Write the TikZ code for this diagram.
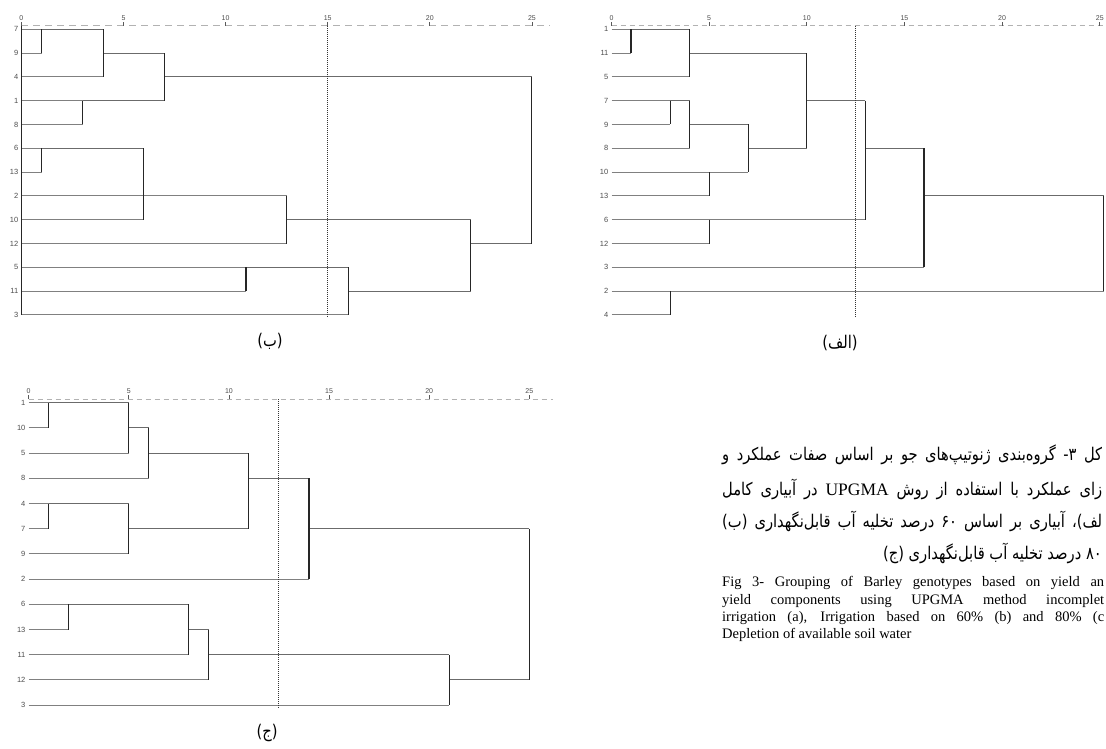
\documentclass[tikz,border=0pt]{standalone}
\usepackage{fontspec}
\setmainfont{Liberation Serif}
\setsansfont{Liberation Sans}
\newfontfamily\persianfont[Script=Arabic, FakeStretch=0.84]{DejaVu Sans}
\TeXXeTstate=1
\usetikzlibrary{positioning}

\begin{document}
\begin{tikzpicture}[
      x=1pt,
      y=-1pt,
      leafln/.style={
        draw=black!50,
        line width=1.1pt
      },
      linkln/.style={
        draw=black!58,
        line width=1.1pt
      },
      stemln/.style={
        draw=black!85,
        line width=1.1pt
      },
      axisln/.style={
        draw=black!30,
        line width=1pt,
        dash pattern=on 5pt off 4pt
      },
      tickln/.style={
        draw=black!65,
        line width=0.8pt
      },
      ticklab/.style={
        above,
        inner sep=1pt,
        font=\fontsize{7}{8}\sffamily,
        text=black!70
      },
      rowlab/.style={
        anchor=east,
        inner sep=0pt,
        xshift=-3pt,
        font=\fontsize{7.5}{8}\sffamily,
        text=black!70
      },
      cutln/.style={
        draw=black!80,
        line width=1pt,
        densely dotted
      },
      panelcap/.style={
        inner sep=0pt,
        font={\persianfont\fontsize{17.5}{20}\selectfont}
      },
      faline/.style={
        inner sep=0pt,
        font={\persianfont\fontsize{17.5}{21}\selectfont}
      },
      enline/.style={
        inner sep=0pt,
        anchor=west,
        font={\fontsize{14.5}{17}\selectfont}
      }
    ]
    \useasboundingbox (0,0) rectangle (1106,749) ;

    % (ب) top left
    \begin{scope}[xshift=21.4pt, yshift=-29.3pt, x=20.42pt, y=-23.8pt]
      \draw[axisln, dash pattern=on 7pt off 5pt] (0,-0.14) -- (25.9,-0.14) ;
      \foreach \t in {0,5,...,25}
        \draw[tickln] (\t,-0.14) -- ++(0,4pt) node[ticklab] (bt\t) {\t} ;
      \foreach \g [count=\r from 0] in {7,9,4,1,8,6,13,2,10,12,5,11,3}
        \node[rowlab] (bl\g) at (0,\r) {\g} ;
      \draw[leafln] (0,0) -- (1,0) (0,1) -- (1,1) (0,2) -- (4,2)
        (0,3) -- (3,3) (0,4) -- (3,4) (0,5) -- (1,5) (0,6) -- (1,6)
        (0,7) -- (13,7) (0,8) -- (6,8) (0,9) -- (13,9)
        (0,10) -- (11,10) (0,11) -- (11,11) (0,12) -- (16,12) ;
      \draw[linkln] (1,0) -- (4,0) (4,1) -- (7,1) (3,3) -- (7,3)
        (7,2) -- (25,2) (1,5) -- (6,5) (13,8) -- (22,8)
        (11,10) -- (16,10) (16,11) -- (22,11) (22,9) -- (25,9) ;
      \draw[stemln] (1,0) -- (1,1) (4,0) -- (4,2) (3,3) -- (3,4)
        (7,1) -- (7,3) (1,5) -- (1,6) (6,5) -- (6,8) (13,7) -- (13,9)
        (11,10) -- (11,11) (16,10) -- (16,12) (22,8) -- (22,11)
        (25,2) -- (25,9) (0,-0.14) -- (0,12) ;
      \draw[cutln] (15,-0.14) -- (15,12.1) ;
    \end{scope}

    % (الف) top right
    \begin{scope}[xshift=611.5pt, yshift=-29.3pt, x=19.53pt, y=-23.8pt]
      \draw[axisln] (0,-0.14) -- (25.4,-0.14) ;
      \foreach \t in {0,5,...,25}
        \draw[tickln] (\t,-0.14) -- ++(0,4pt) node[ticklab] (at\t) {\t} ;
      \foreach \g [count=\r from 0] in {1,11,5,7,9,8,10,13,6,12,3,2,4}
        \node[rowlab] (al\g) at (0,\r) {\g} ;
      \draw[leafln] (0,0) -- (1,0) (0,1) -- (1,1) (0,2) -- (4,2)
        (0,3) -- (3,3) (0,4) -- (3,4) (0,5) -- (4,5) (0,6) -- (7,6)
        (0,7) -- (5,7) (0,8) -- (13,8) (0,9) -- (5,9)
        (0,10) -- (16,10) (0,11) -- (25.2,11) (0,12) -- (3,12) ;
      \draw[linkln] (1,0) -- (4,0) (4,1) -- (10,1) (3,3) -- (4,3)
        (4,4) -- (7,4) (7,5) -- (10,5) (10,3) -- (13,3)
        (13,5) -- (16,5) (16,7) -- (25.2,7) ;
      \draw[stemln] (1,0) -- (1,1) (4,0) -- (4,2) (3,3) -- (3,4)
        (4,3) -- (4,5) (5,6) -- (5,7) (7,4) -- (7,6) (10,1) -- (10,5)
        (5,8) -- (5,9) (13,3) -- (13,8) (16,5) -- (16,10)
        (3,11) -- (3,12) (25.2,7) -- (25.2,11) ;
      \draw[cutln] (12.5,-0.14) -- (12.5,12.1) ;
    \end{scope}

    % (ج) bottom left
    \begin{scope}[xshift=28.6pt, yshift=-402.7pt, x=20.03pt, y=-25.2pt]
      \draw[axisln] (0,-0.14) -- (26.2,-0.14) ;
      \foreach \t in {0,5,...,25}
        \draw[tickln] (\t,-0.14) -- ++(0,4pt) node[ticklab] (ct\t) {\t} ;
      \foreach \g [count=\r from 0] in {1,10,5,8,4,7,9,2,6,13,11,12,3}
        \node[rowlab] (cl\g) at (0,\r) {\g} ;
      \draw[leafln] (0,0) -- (1,0) (0,1) -- (1,1) (0,2) -- (5,2)
        (0,3) -- (6,3) (0,4) -- (1,4) (0,5) -- (1,5) (0,6) -- (5,6)
        (0,7) -- (14,7) (0,8) -- (2,8) (0,9) -- (2,9)
        (0,10) -- (8,10) (0,11) -- (9,11) (0,12) -- (21,12) ;
      \draw[linkln] (1,0) -- (5,0) (5,1) -- (6,1) (6,2) -- (11,2)
        (1,4) -- (5,4) (5,5) -- (11,5) (11,3) -- (14,3) (14,5) -- (25,5)
        (2,8) -- (8,8) (8,9) -- (9,9) (9,10) -- (21,10) (21,11) -- (25,11) ;
      \draw[stemln] (1,0) -- (1,1) (5,0) -- (5,2) (6,1) -- (6,3)
        (1,4) -- (1,5) (5,4) -- (5,6) (11,2) -- (11,5) (14,3) -- (14,7)
        (2,8) -- (2,9) (8,8) -- (8,10) (9,9) -- (9,11)
        (21,10) -- (21,12) (25,5) -- (25,11) ;
      \draw[cutln] (12.5,-0.14) -- (12.5,12.1) ;
    \end{scope}

    % panel captions
    \node[panelcap] (capb) at (270,341) {\beginR(ب)\endR} ;
    \node[panelcap] (capa) at (840,343) {\beginR(الف)\endR} ;
    \node[panelcap] (capc) at (267,733) {\beginR(ج)\endR} ;

    % figure caption, as far as the page shows it
    \node[faline, anchor=west] (capfa1) at (722,455) {\hbox to 380pt{\beginR کل ۳- گروه^^^^200cبندی ژنوتیپ^^^^200cهای جو بر اساس صفات عملکرد و\endR}} ;
    \node[faline, anchor=west] (capfa2) at (722,489) {\hbox to 380pt{\beginR زای عملکرد با استفاده از روش {\rmfamily\beginL UPGMA\endL} در آبیاری کامل\endR}} ;
    \node[faline, anchor=west] (capfa3) at (722,521) {\hbox to 380pt{\beginR لف)، آبیاری بر اساس ۶۰ درصد تخلیه آب قابل^^^^200cنگهداری (ب)\endR}} ;
    \node[faline, anchor=east] (capfa4) at (1102,553) {\beginR ۸۰ درصد تخلیه آب قابل^^^^200cنگهداری (ج)\endR} ;
    \node[enline] (capen1) at (722,583) {\hbox to 382pt{Fig 3- Grouping of Barley genotypes based on yield an}} ;
    \node[enline] (capen2) at (722,601) {\hbox to 382pt{yield components using UPGMA method incomplet}} ;
    \node[enline] (capen3) at (722,618) {\hbox to 382pt{irrigation (a), Irrigation based on 60\% (b) and 80\% (c}} ;
    \node[enline] (capen4) at (722,635) {Depletion of available soil water} ;
  \end{tikzpicture}
\end{document}
